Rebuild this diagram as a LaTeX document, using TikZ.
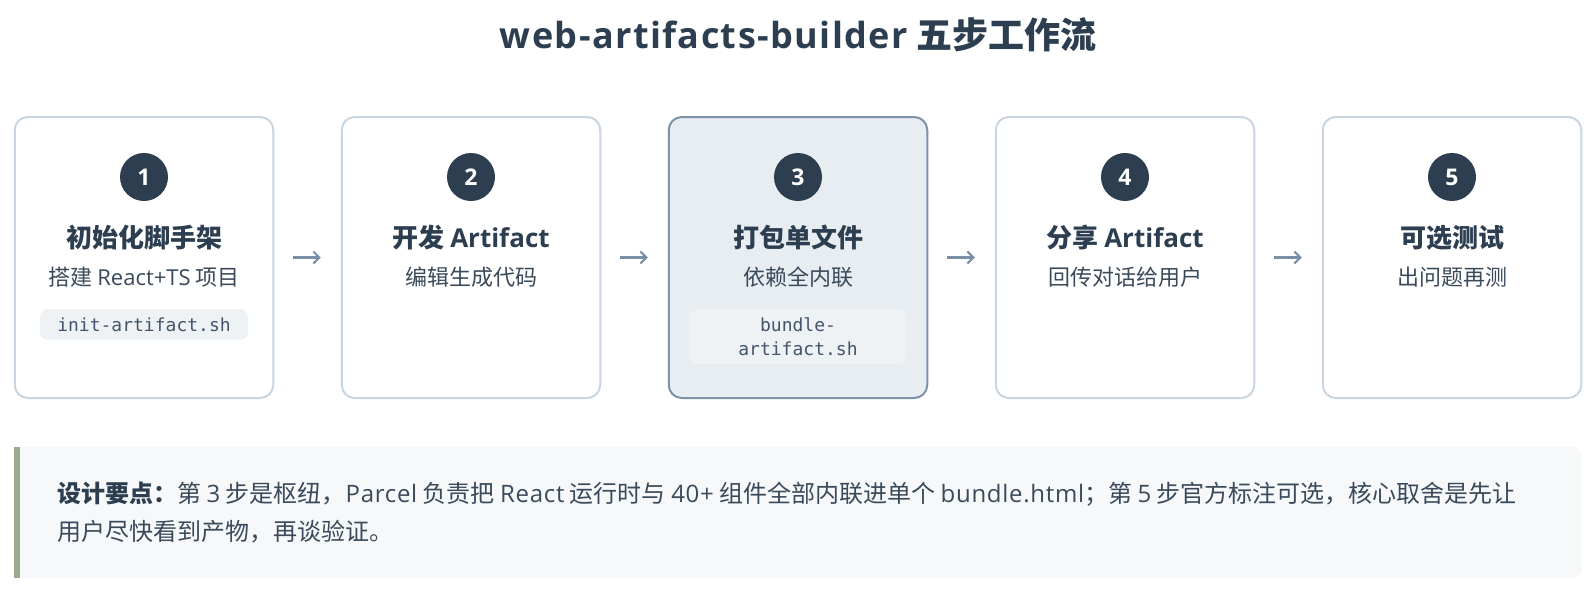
\documentclass[tikz,border=0pt]{standalone}
\usepackage{fontspec}
\setmainfont{Noto Sans CJK SC}
\newfontfamily\lat{Open Sans}
\newfontfamily\latwide{Open Sans}[LetterSpace=3]
\newfontfamily\latttl{Open Sans}[LetterSpace=4]
\newfontfamily\codefont{DejaVu Sans Mono}
\usetikzlibrary{arrows.meta}
\definecolor{ink}{HTML}{2C3E50}
\definecolor{subink}{HTML}{3A4A5B}
\definecolor{boxline}{HTML}{C9D5E0}
\definecolor{hiline}{HTML}{7B92A9}
\definecolor{hifill}{HTML}{E8EDF2}
\definecolor{pill}{HTML}{EEF2F5}
\definecolor{codeink}{HTML}{44546A}
\definecolor{arrowc}{HTML}{7A8FA6}
\definecolor{notefill}{HTML}{F6F8FA}
\definecolor{notebar}{HTML}{9CAB8C}
\begin{document}
\begin{tikzpicture}[x=1pt,y=-1pt,
  stepbox/.style={draw=boxline,line width=2pt,fill=white,rounded corners=13pt,minimum width=258.5pt,minimum height=281pt,inner sep=0pt},
  hibox/.style={stepbox,draw=hiline,fill=hifill},
  badge/.style={circle,fill=ink,minimum size=48pt,inner sep=0pt,text=white,font=\lat\fontsize{23}{26}\selectfont\bfseries},
  steptitle/.style={anchor=base,text=ink,font=\fontsize{26}{30}\selectfont\bfseries,inner sep=0pt},
  stepsub/.style={anchor=base,text=subink,font=\fontsize{22}{26}\selectfont,inner sep=0pt},
  codepill/.style={fill=pill,rounded corners=8pt,text=codeink,font=\codefont\fontsize{18}{24}\selectfont,align=center,inner sep=0pt},
  flow/.style={draw=arrowc,line width=2.5pt,-{Straight Barb[length=6pt,width=12pt,line width=2pt]},shorten <=19pt,shorten >=20pt}
]
\useasboundingbox (0,0) rectangle (1596,590);
\fill[white] (0,0) rectangle (1596,590);
\node[anchor=base,text=ink,font=\fontsize{36}{40}\selectfont\bfseries,inner sep=0pt] (title) at (798,48) {{\latttl web-artifacts-builder} 五步工作流};

% boxes
\node[stepbox] (b1) at (144,257.5) {};
\node[stepbox] (b2) at (471,257.5) {};
\node[hibox]   (b3) at (798,257.5) {};
\node[stepbox] (b4) at (1125,257.5) {};
\node[stepbox] (b5) at (1452,257.5) {};

% badges
\node[badge] (n1) at (144,177) {1};
\node[badge] (n2) at (471,177) {2};
\node[badge] (n3) at (798,177) {3};
\node[badge] (n4) at (1125,177) {4};
\node[badge] (n5) at (1452,177) {5};

% titles
\node[steptitle] (t1) at (144,247) {初始化脚手架};
\node[steptitle] (t2) at (471,247) {开发 {\lat Artifact}};
\node[steptitle] (t3) at (798,247) {打包单文件};
\node[steptitle] (t4) at (1125,247) {分享 {\lat Artifact}};
\node[steptitle] (t5) at (1452,247) {可选测试};

% subtitles
\node[stepsub] (s1) at (144,285) {搭建 {\lat React+TS} 项目};
\node[stepsub] (s2) at (471,285) {编辑生成代码};
\node[stepsub] (s3) at (798,285) {依赖全内联};
\node[stepsub] (s4) at (1125,285) {回传对话给用户};
\node[stepsub] (s5) at (1452,285) {出问题再测};

% code pills
\node[codepill,minimum width=208pt,minimum height=31pt] (c1) at (144,324.5) {init-artifact.sh};
\node[codepill,minimum width=216pt,minimum height=55pt] (c3) at (798,336.5) {bundle-\\artifact.sh};

% arrows
\draw[flow] (b1.east) -- (b2.west);
\draw[flow] (b2.east) -- (b3.west);
\draw[flow] (b3.east) -- (b4.west);
\draw[flow] (b4.east) -- (b5.west);

% note
\node[fill=notefill,rounded corners=10pt,minimum width=1565pt,minimum height=131pt,inner sep=0pt] (note) at (799.5,512.5) {};
\fill[notebar] (14,447) rectangle (20,578);
\node[anchor=west,align=left,text=subink,font=\fontsize{24}{38}\selectfont,inner sep=0pt] (notetext) at (57,513) {{\bfseries\color{ink}设计要点：}第 {\latwide 3} 步是枢纽，{\latwide Parcel} 负责把 {\latwide React} 运行时与 {\latwide 40+} 组件全部内联进单个 {\latwide bundle.html}；第 {\latwide 5} 步官方标注可选，核心取舍是先让\\用户尽快看到产物，再谈验证。};
\end{tikzpicture}
\end{document}
